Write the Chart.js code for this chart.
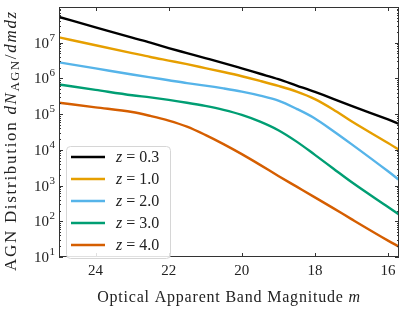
<!DOCTYPE html>
<html>
<head>
<meta charset="utf-8">
<script src="https://cdn.jsdelivr.net/npm/chart.js@4.4.1/dist/chart.umd.min.js"></script>
<style>
  html, body { margin: 0; padding: 0; background: #fff; }
  #wrap { width: 407px; height: 310px; position: relative; }
</style>
</head>
<body>
<div id="wrap"><canvas id="c"></canvas></div>
<script>
'use strict';

// ─── data ──────────────────────────────────────────────────────
const mags = [25, 24, 23, 22.5, 22, 21.5, 21, 20.5, 20, 19.5, 19, 18.5, 18, 17.5, 17, 16, 15.7];
const zLabels = ['0.3', '1.0', '2.0', '3.0', '4.0'];
const z03 = [5.25e7, 2.69e7, 1.38e7, 1.0e7, 7.08e6, 5.13e6, 3.72e6, 2.69e6, 1.91e6, 1.35e6, 9.55e5, 6.31e5, 4.17e5, 2.69e5, 1.7e5, 7.08e4, 5.37e4];
const z10 = [1.41e7, 8.51e6, 5.13e6, 3.98e6, 3.16e6, 2.51e6, 1.95e6, 1.51e6, 1.15e6, 8.51e5, 6.17e5, 4.27e5, 2.63e5, 1.35e5, 6.31e4, 1.55e4, 1.0e4];
const z20 = [2.82e6, 1.91e6, 1.29e6, 1.07e6, 8.91e5, 7.41e5, 6.31e5, 5.25e5, 4.27e5, 3.31e5, 2.4e5, 1.41e5, 7.59e4, 3.39e4, 1.45e4, 2.51e3, 1.45e3];
const z30 = [6.76e5, 4.79e5, 3.39e5, 2.95e5, 2.51e5, 2.09e5, 1.7e5, 1.32e5, 9.55e4, 6.17e4, 3.55e4, 1.7e4, 7.24e3, 3.02e3, 1.26e3, 251, 155];
const z40 = [2.09e5, 1.55e5, 1.15e5, 8.91e4, 6.61e4, 4.47e4, 2.63e4, 1.45e4, 7.59e3, 3.8e3, 1.86e3, 933, 468, 234, 115, 28.8, 19.5];
const xTicks = [16, 18, 20, 22, 24];
const yDecades = [1, 2, 3, 4, 5, 6, 7];

const series = [z03, z10, z20, z30, z40];
const colors = ['#000000', '#E69F00', '#56B4E9', '#009E73', '#D55E00'];
const SERIF = '"Liberation Serif", "DejaVu Serif", serif';

// ─── axes, ticks, titles and legend drawn around the chart area ─
const decor = {
    id: 'decor',
    afterDraw(chart) {
        const ctx = chart.ctx;
        const a = chart.chartArea;
        const xs = chart.scales.x, ys = chart.scales.y;
        ctx.save();

        // frame
        ctx.strokeStyle = '#333';
        ctx.lineWidth = 1;
        ctx.strokeRect(a.left + 0.5, a.top + 0.5, a.right - a.left - 1, a.bottom - a.top - 1);

        // x ticks (bottom & top, inward)
        ctx.beginPath();
        xTicks.forEach(v => {
            const px = Math.round(xs.getPixelForValue(v)) + 0.5;
            ctx.moveTo(px, a.bottom); ctx.lineTo(px, a.bottom - 4);
            ctx.moveTo(px, a.top); ctx.lineTo(px, a.top + 4);
        });
        // y ticks, major + minor (left & right, inward)
        for (let d = 1; d <= 7; d++) {
            for (let k = 1; k <= 9; k++) {
                const v = k * Math.pow(10, d);
                const py = Math.round(ys.getPixelForValue(v)) + 0.5;
                const len = k === 1 ? 4 : 2;
                ctx.moveTo(a.left, py); ctx.lineTo(a.left + len, py);
                ctx.moveTo(a.right, py); ctx.lineTo(a.right - len, py);
            }
        }
        ctx.stroke();

        // tick labels
        ctx.fillStyle = '#222';
        ctx.font = '15px ' + SERIF;
        ctx.textAlign = 'center';
        ctx.textBaseline = 'alphabetic';
        xTicks.forEach(v => ctx.fillText(String(v), xs.getPixelForValue(v), a.bottom + 18));

        yDecades.forEach(d => {
            const py = ys.getPixelForValue(Math.pow(10, d));
            ctx.font = '11px ' + SERIF;
            const ew = ctx.measureText(String(d)).width;
            ctx.textAlign = 'left';
            const right = a.left - 4;
            ctx.fillText(String(d), right - ew, py - 2);
            ctx.font = '15px ' + SERIF;
            const bw = ctx.measureText('10').width;
            ctx.fillText('10', right - ew - bw - 0.5, py + 5);
        });

        // x title
        ctx.letterSpacing = '0.8px';
        const xParts = [
            { t: 'Optical Apparent Band Magnitude ', f: '16px ' + SERIF },
            { t: 'm', f: 'italic 16px ' + SERIF }
        ];
        drawParts(ctx, xParts, (a.left + a.right) / 2, 302);

        // y title (rotated, runs upward from the bottom)
        ctx.save();
        ctx.translate(16, 271);
        ctx.rotate(-Math.PI / 2);
        ctx.letterSpacing = '1.7px';
        const yParts = [
            { t: 'AGN Distribution ', f: '17px ' + SERIF },
            { t: 'dN', f: 'italic 17px ' + SERIF },
            { t: 'AGN', f: '12.5px ' + SERIF, dy: 3 },
            { t: '/', f: '17px ' + SERIF },
            { t: 'dmdz', f: 'italic 17px ' + SERIF }
        ];
        drawParts(ctx, yParts, 0, 0, 'left');
        ctx.restore();
        ctx.letterSpacing = '0px';

        // legend box
        const lx = a.left + 7, ly = a.top + 139, lw = 104, lh = 112;
        ctx.beginPath();
        ctx.roundRect(lx + 0.5, ly + 0.5, lw, lh, 4);
        ctx.fillStyle = 'rgba(255,255,255,0.85)';
        ctx.fill();
        ctx.strokeStyle = '#d6d6d6';
        ctx.stroke();
        chart.data.datasets.forEach((ds, i) => {
            const ry = ly + 11 + i * 22;
            ctx.beginPath();
            ctx.strokeStyle = ds.borderColor;
            ctx.lineWidth = 2.4;
            ctx.moveTo(lx + 5, ry); ctx.lineTo(lx + 39, ry);
            ctx.stroke();
            ctx.fillStyle = '#222';
            const parts = [
                { t: 'z', f: 'italic 16px ' + SERIF },
                { t: ' = ', f: '16px ' + SERIF },
                { t: zLabels[i], f: '16px ' + SERIF }
            ];
            drawParts(ctx, parts, lx + 50, ry + 5, 'left');
        });

        ctx.restore();
    }
};

function drawParts(ctx, parts, x, y, align) {
    let total = 0;
    parts.forEach(p => { ctx.font = p.f; p.w = ctx.measureText(p.t).width; total += p.w; });
    let cx = align === 'left' ? x : x - total / 2;
    ctx.textAlign = 'left';
    parts.forEach(p => {
        ctx.font = p.f;
        ctx.fillText(p.t, cx, y + (p.dy || 0));
        cx += p.w;
    });
}

new Chart(document.getElementById('c'), {
    type: 'line',
    data: {
        datasets: series.map((vals, i) => ({
            label: 'z = ' + zLabels[i],
            data: mags.map((m, j) => ({ x: m, y: vals[j] })),
            borderColor: colors[i],
            borderWidth: 2.4,
            pointRadius: 0,
            cubicInterpolationMode: 'monotone',
            fill: false
        }))
    },
    options: {
        responsive: true,
        maintainAspectRatio: false,
        animation: false,
        layout: { padding: { left: 51, right: 8, top: 7, bottom: 45 } },
        plugins: { legend: { display: false }, tooltip: { enabled: false } },
        scales: {
            x: {
                type: 'linear', reverse: true, min: 15.7, max: 25,
                grid: { display: false }, border: { display: false },
                ticks: { display: false }
            },
            y: {
                type: 'logarithmic', min: 10, max: 1e8,
                grid: { display: false }, border: { display: false },
                ticks: { display: false }
            }
        }
    },
    plugins: [decor]
});
</script>
</body>
</html>
